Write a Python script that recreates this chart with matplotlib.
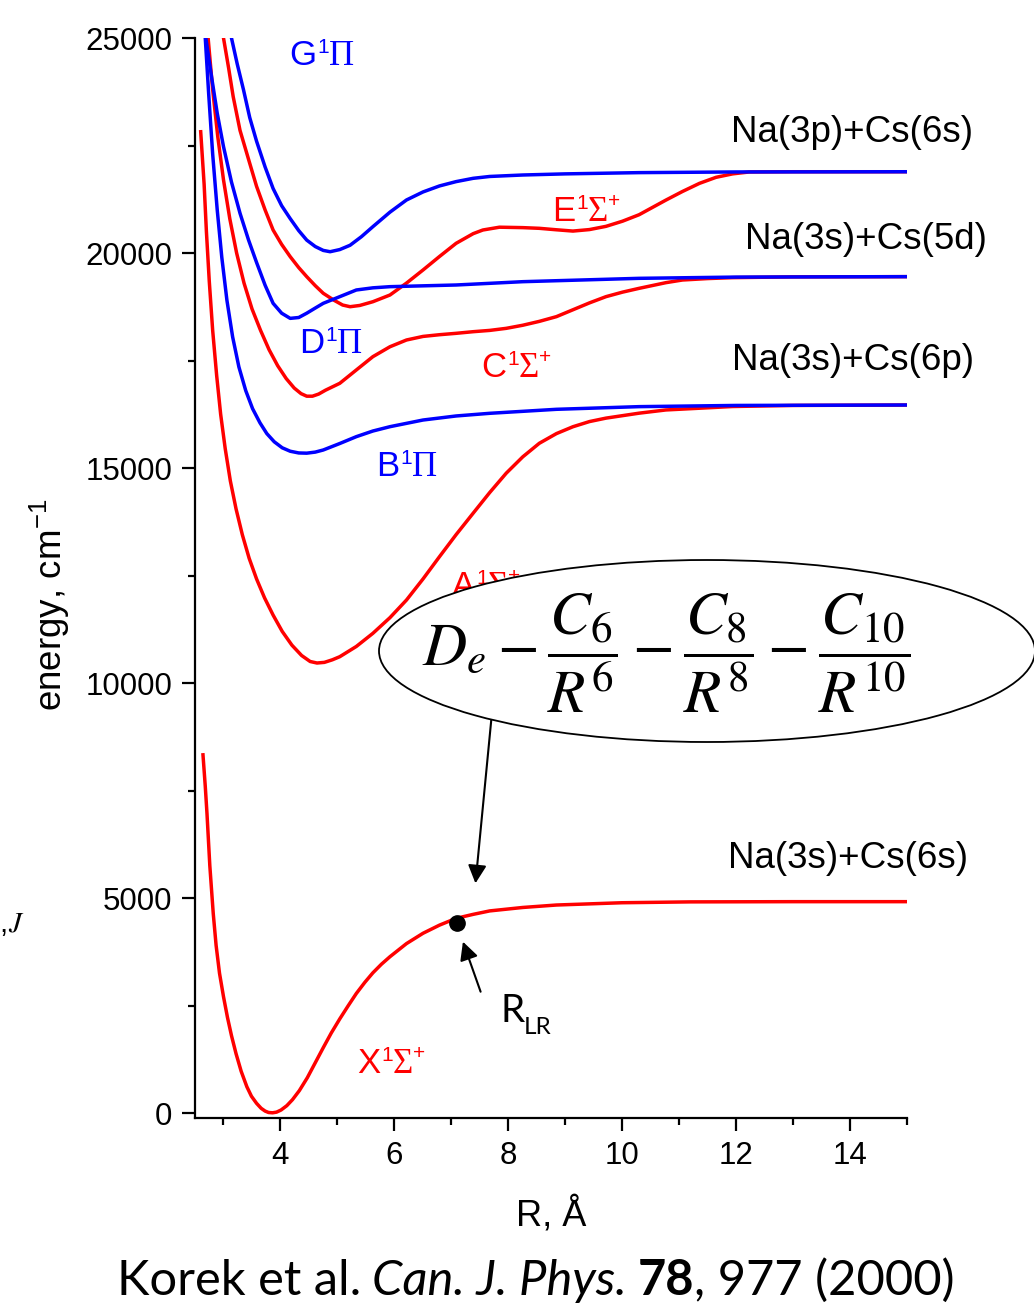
import matplotlib
matplotlib.use('Agg')
import matplotlib.pyplot as plt
from matplotlib.patches import Ellipse
from matplotlib.ticker import MultipleLocator

W, H = 1034, 1310

# ---------------- data ----------------
X_R = [2.65, 2.69, 2.72, 2.77, 2.83, 2.88, 2.94, 3.01, 3.08, 3.15, 3.23, 3.32, 3.42, 3.50, 3.59,
       3.67, 3.74, 3.80, 3.87, 3.94, 4.02, 4.12, 4.22, 4.34, 4.48, 4.62, 4.76, 4.90, 5.05, 5.20,
       5.34, 5.49, 5.63, 5.78, 5.93, 6.22, 6.51, 6.80, 7.09, 7.39, 7.68, 8.26, 8.85, 10.0, 11.2,
       13.0, 15.0]
X_E = [8330, 7600, 6970, 5750, 4640, 3900, 3250, 2705, 2220, 1800, 1380, 970, 610, 390, 225,
       110, 45, 12, 5, 20, 70, 170, 310, 520, 820, 1170, 1520, 1860, 2190, 2500,
       2780, 3040, 3260, 3460, 3635, 3940, 4180, 4370, 4527, 4620, 4700, 4780, 4837, 4890, 4910,
       4915, 4915]

A_R = [2.61, 2.67, 2.71, 2.76, 2.82, 2.89, 2.96, 3.04, 3.13, 3.23, 3.34, 3.46, 3.59, 3.73, 3.88,
       4.04, 4.21, 4.38, 4.53, 4.65, 4.78, 4.92, 5.05, 5.34, 5.63, 5.93, 6.22, 6.51, 6.80, 7.09,
       7.39, 7.68, 7.97, 8.26, 8.55, 8.85, 9.14, 9.43, 9.72, 10.30, 10.77, 11.94, 13.0, 15.0]
A_E = [22820, 21600, 20500, 19350, 18200, 17150, 16250, 15450, 14700, 14050, 13450, 12900, 12420,
       11980, 11580, 11200, 10880, 10640, 10500, 10465, 10480, 10540, 10612, 10850, 11155, 11520,
       11930, 12420, 12940, 13450, 13950, 14430, 14880, 15260, 15575, 15800, 15960, 16080, 16160,
       16275, 16350, 16430, 16455, 16465]

B_R = [2.69, 2.75, 2.82, 2.90, 2.98, 3.07, 3.17, 3.28, 3.40, 3.52, 3.65, 3.77, 3.90, 4.04, 4.18,
       4.33, 4.47, 4.62, 4.76, 5.05, 5.34, 5.63, 5.93, 6.51, 7.09, 7.68, 8.85, 10.3, 12.0, 15.0]
B_E = [25000, 23700, 22300, 21000, 19900, 18900, 18050, 17350, 16800, 16380, 16050, 15800, 15610,
       15470, 15390, 15350, 15345, 15370, 15419, 15570, 15729, 15860, 15961, 16116, 16210, 16272,
       16365, 16427, 16455, 16465]

C_R = [2.74, 2.82, 2.91, 3.01, 3.12, 3.24, 3.37, 3.51, 3.66, 3.81, 3.96, 4.11, 4.25, 4.37, 4.47,
       4.57, 4.68, 4.80, 5.05, 5.34, 5.63, 5.93, 6.22, 6.51, 6.80, 7.09, 7.39, 7.68, 7.97, 8.26,
       8.55, 8.85, 9.14, 9.43, 9.72, 10.01, 10.30, 10.77, 11.06, 11.5, 11.94, 13.0, 15.0]
C_E = [25000, 23800, 22700, 21700, 20800, 20000, 19300, 18700, 18200, 17750, 17380, 17080, 16860,
       16730, 16670, 16670, 16720, 16810, 16970, 17280, 17589, 17820, 17977, 18060, 18100, 18132,
       18170, 18200, 18248, 18320, 18410, 18520, 18680, 18840, 18985, 19090, 19178, 19310, 19372,
       19405, 19427, 19445, 19450]

D_R = [2.70, 2.80, 2.90, 3.01, 3.15, 3.30, 3.45, 3.59, 3.74, 3.88, 4.03, 4.18, 4.33, 4.47, 4.62,
       4.76, 5.05, 5.34, 5.63, 5.93, 7.09, 8.26, 10.3, 12.0, 15.0]
D_E = [25000, 24100, 23250, 22474, 21650, 20923, 20300, 19780, 19250, 18830, 18600, 18480, 18500,
       18600, 18720, 18830, 18985, 19140, 19190, 19217, 19256, 19333, 19411, 19440, 19450]

E_R = [3.01, 3.10, 3.18, 3.30, 3.47, 3.59, 3.74, 3.88, 4.03, 4.18, 4.33, 4.47, 4.62, 4.76, 4.95,
       5.10, 5.23, 5.40, 5.63, 5.93, 6.22, 6.51, 6.80, 7.09, 7.39, 7.56, 7.85, 8.26, 8.55, 8.85,
       9.14, 9.43, 9.72, 10.01, 10.30, 10.77, 11.06, 11.36, 11.65, 11.94, 12.23, 13.0, 15.0]
E_E = [25000, 24300, 23636, 22850, 22086, 21550, 21000, 20535, 20200, 19915, 19660, 19450, 19240,
       19063, 18900, 18790, 18751, 18780, 18867, 19023, 19300, 19605, 19920, 20225, 20450, 20535,
       20600, 20590, 20574, 20540, 20510, 20545, 20620, 20740, 20890, 21230, 21430, 21620, 21760,
       21840, 21884, 21890, 21890]

G_R = [3.15, 3.25, 3.36, 3.47, 3.59, 3.74, 3.88, 4.03, 4.18, 4.33, 4.47, 4.62, 4.76, 4.88, 5.05,
       5.23, 5.43, 5.63, 5.93, 6.22, 6.51, 6.80, 7.09, 7.39, 7.68, 8.26, 9.0, 10.3, 12.0, 15.0]
G_E = [25000, 24400, 23800, 23150, 22600, 22000, 21500, 21100, 20800, 20520, 20300, 20150, 20060,
       20030, 20080, 20180, 20380, 20612, 20950, 21233, 21420, 21560, 21660, 21737, 21780, 21814,
       21840, 21869, 21885, 21890]

R_LR = 7.11
E_LR = 4410

X_TICKS = [4, 6, 8, 10, 12, 14]
Y_TICKS = [0, 5000, 10000, 15000, 20000, 25000]

RED = '#ff0000'
BLUE = '#0000ff'

plt.rcParams['font.family'] = ['Liberation Sans', 'DejaVu Sans']
plt.rcParams['mathtext.fontset'] = 'custom'
plt.rcParams['mathtext.rm'] = 'Liberation Sans'
plt.rcParams['mathtext.it'] = 'Liberation Sans:italic'
plt.rcParams['mathtext.bf'] = 'Liberation Sans:bold'

fig = plt.figure(figsize=(W / 100, H / 100), dpi=100)
ax = fig.add_axes([195 / W, 1 - 1118 / H, (907 - 195) / W, (1118 - 38) / H])

for R, E in [(X_R, X_E), (A_R, A_E), (C_R, C_E), (E_R, E_E)]:
    ax.plot(R, E, color=RED, lw=2.5, zorder=2, solid_joinstyle='round')
for R, E in [(B_R, B_E), (D_R, D_E), (G_R, G_E)]:
    ax.plot(R, E, color=BLUE, lw=2.5, zorder=3, solid_joinstyle='round')

ax.plot([R_LR], [E_LR], 'o', color='black', ms=11, zorder=4)

ax.set_xlim(2.51, 15)
ax.set_ylim(-116, 25000)
ax.set_xticks(X_TICKS)
ax.set_yticks(Y_TICKS)
ax.xaxis.set_minor_locator(MultipleLocator(1))
ax.yaxis.set_minor_locator(MultipleLocator(2500))
for s in ['top', 'right']:
    ax.spines[s].set_visible(False)
for s in ['left', 'bottom']:
    ax.spines[s].set_linewidth(1.6)
ax.tick_params(which='major', direction='out', length=9.5, width=1.6, labelsize=22.5, pad=7)
ax.tick_params(which='minor', direction='out', length=5, width=1.6)

# arrows
arrow_kw = dict(arrowstyle='-|>,head_length=0.55,head_width=0.28', color='black', lw=1.5,
                mutation_scale=20, shrinkA=0, shrinkB=0)
ax.annotate('', xy=(7.43, 5342), xytext=(7.71, 9179), arrowprops=arrow_kw, annotation_clip=False)
ax.annotate('', xy=(7.21, 3984), xytext=(7.52, 2821), arrowprops=arrow_kw, annotation_clip=False)

renderer = fig.canvas.get_renderer()


def compose(x_px, base_px, parts, color='black', zorder=8):
    x = x_px
    for p in parts:
        s, fam, size, rise = p[:4]
        style = p[4] if len(p) > 4 else 'normal'
        weight = p[5] if len(p) > 5 else 'normal'
        gap = p[6] if len(p) > 6 else 0
        t = fig.text(x / W, 1 - (base_px - rise) / H, s, fontsize=size, family=fam,
                     style=style, weight=weight, color=color, ha='left', va='baseline',
                     zorder=zorder)
        bb = t.get_window_extent(renderer)
        x += bb.width + gap


SANS = 'Liberation Sans'
SERIF = 'Liberation Serif'


def state(letter, sym, x, y, color, plus, zorder=8):
    parts = [(letter, SANS, 25, 0, 'normal', 'normal', 1),
             ('1', SANS, 15, 12, 'normal', 'normal', 0),
             (sym, SERIF, 25, 0)]
    if plus:
        parts.append(('+', SANS, 15, 14))
    compose(x, y, parts, color, zorder)


state('G', 'Π', 289, 65, BLUE, False)
state('E', 'Σ', 552, 221, RED, True)
state('D', 'Π', 299, 353, BLUE, False)
state('C', 'Σ', 481, 377, RED, True)
state('B', 'Π', 376, 476, BLUE, False)
state('A', 'Σ', 452, 596, RED, True, zorder=5)
state('X', 'Σ', 357, 1073, RED, True)

for txt, x, y in [('Na(3p)+Cs(6s)', 731, 142), ('Na(3s)+Cs(5d)', 745, 249),
                  ('Na(3s)+Cs(6p)', 732, 370), ('Na(3s)+Cs(6s)', 728, 868)]:
    fig.text(x / W, 1 - y / H, txt, fontsize=26.5, ha='left', va='baseline', zorder=8)

# R_LR label
compose(500, 1022, [('R', 'Lato', 28, 0), ('LR', 'Lato', 17.5, -12)])

# ellipse with the long-range formula
ell = Ellipse((707 / W, 1 - 651 / H), 656 / W, 182 / H, transform=fig.transFigure,
              facecolor='white', edgecolor='black', lw=1.3, zorder=6)
fig.add_artist(ell)
fig.text(666 / W, 1 - 653 / H,
         r'$D_e - \dfrac{C_6}{R^6} - \dfrac{C_8}{R^8} - \dfrac{C_{10}}{R^{10}}$',
         fontsize=44, math_fontfamily='stix', ha='center', va='center', zorder=9)

# axis labels
fig.text(50 / W, 1 - 605 / H, r'energy, cm$^{\mathregular{-1}}$', rotation=90, fontsize=26.5,
         ha='center', va='center')
fig.text(551 / W, 1 - 1226 / H, 'R, Å', fontsize=26, ha='center', va='baseline')

# stray cropped text at the left edge
fig.text(24 / W, 1 - 932 / H, r'$\upsilon$,$J$', fontsize=21, math_fontfamily='stix',
         ha='right', va='baseline')

# citation
compose(117, 1295, [('Korek et al.', 'Lato', 35.2, 0, 'normal', 'normal', 11),
                    ('Can. J. Phys.', 'Lato', 35.2, 0, 'italic', 'normal', 11),
                    ('78', 'Lato', 35.2, 0, 'normal', 'bold', 0),
                    (', 977 (2000)', 'Lato', 35.2, 0)])

fig.savefig('out.png', dpi=100)
